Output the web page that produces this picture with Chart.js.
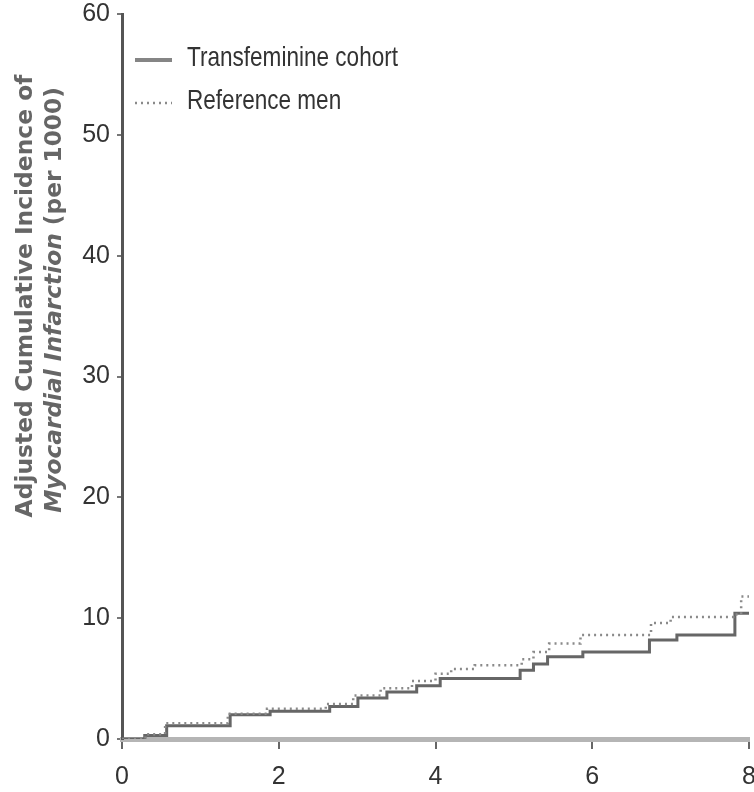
<!DOCTYPE html>
<html>
<head>
<meta charset="utf-8">
<script src="https://cdn.jsdelivr.net/npm/chart.js@4/dist/chart.umd.min.js"></script>
<style>
  html, body { margin: 0; padding: 0; background: #ffffff; }
  #wrap { width: 754px; height: 792px; position: relative; }
</style>
</head>
<body>
<div id="wrap"><canvas id="c" width="754" height="792"></canvas></div>
<script>
// ---- Data ----
const seriesNames = ["Transfeminine cohort", "Reference men"];

const transTimes  = [0, 0.29, 0.57, 1.38, 1.89, 2.65, 3.01, 3.38, 3.76, 4.06, 5.08, 5.25, 5.43, 5.88, 6.73, 7.08, 7.82, 8.0];
const transValues = [0, 0.3, 1.1, 2.0, 2.3, 2.7, 3.4, 3.9, 4.4, 5.0, 5.7, 6.2, 6.8, 7.2, 8.2, 8.6, 10.4, 10.5];

const refTimes  = [0, 0.30, 0.55, 1.35, 1.85, 2.60, 2.95, 3.30, 3.70, 4.00, 4.20, 4.50, 5.10, 5.25, 5.45, 5.85, 6.75, 7.00, 7.80, 7.90, 8.0];
const refValues = [0, 0.4, 1.3, 2.1, 2.5, 2.9, 3.6, 4.2, 4.8, 5.4, 5.8, 6.1, 6.6, 7.2, 7.9, 8.6, 9.6, 10.1, 10.3, 11.8, 11.5];

const xTicks = [0, 2, 4, 6, 8];
const yTicks = [0, 10, 20, 30, 40, 50, 60];

const yTitleLine1 = "Adjusted Cumulative Incidence of";
const yTitleLine2a = "Myocardial Infarction";
const yTitleLine2b = " (per 1000)";

// ---- helpers ----
function toPoints(xs, ys) { return xs.map((x, i) => ({ x: x, y: ys[i] })); }

const TICK_FONT = { family: "'Liberation Sans', Arial, sans-serif", size: 25 };

// custom legend + y title
const annotate = {
  id: 'annotate',
  afterDraw(chart) {
    const ctx = chart.ctx;
    // legend
    const legendRows = [
      { label: seriesNames[0], y: 58, color: '#858585', width: 4, dash: [] },
      { label: seriesNames[1], y: 101, color: '#8a8a8a', width: 2.5, dash: [2, 4] }
    ];
    ctx.save();
    ctx.font = "28px 'Liberation Sans', Arial, sans-serif";
    ctx.textBaseline = 'middle';
    const wRef = ctx.measureText(seriesNames[0]).width;
    const sx = 211 / wRef;
    legendRows.forEach(r => {
      ctx.beginPath();
      ctx.setLineDash(r.dash);
      ctx.lineWidth = r.width;
      ctx.strokeStyle = r.color;
      ctx.moveTo(135, r.y + 2);
      ctx.lineTo(172, r.y + 2);
      ctx.stroke();
      ctx.setLineDash([]);
      ctx.save();
      ctx.translate(187, r.y);
      ctx.scale(sx, 1);
      ctx.fillStyle = '#333333';
      ctx.fillText(r.label, 0, 0);
      ctx.restore();
    });
    ctx.restore();

    // y-axis title (two rotated lines)
    ctx.save();
    ctx.fillStyle = '#666666';
    ctx.textBaseline = 'middle';
    const fam = "'DejaVu Sans', Verdana, sans-serif";
    ctx.font = "bold 20px " + fam;
    let w1 = ctx.measureText(yTitleLine1).width;
    let s1 = 20 * 443 / w1;
    ctx.font = "bold " + s1.toFixed(2) + "px " + fam;
    w1 = ctx.measureText(yTitleLine1).width;
    ctx.translate(26, 296);
    ctx.rotate(-Math.PI / 2);
    ctx.fillText(yTitleLine1, -w1 / 2, 0);
    ctx.restore();

    ctx.save();
    ctx.fillStyle = '#666666';
    ctx.textBaseline = 'middle';
    ctx.font = "italic bold 20px " + fam;
    let wa = ctx.measureText(yTitleLine2a).width;
    ctx.font = "bold 20px " + fam;
    let wb = ctx.measureText(yTitleLine2b).width;
    let s2 = 20 * 426 / (wa + wb);
    ctx.font = "italic bold " + s2.toFixed(2) + "px " + fam;
    wa = ctx.measureText(yTitleLine2a).width;
    ctx.font = "bold " + s2.toFixed(2) + "px " + fam;
    wb = ctx.measureText(yTitleLine2b).width;
    ctx.translate(55, 300);
    ctx.rotate(-Math.PI / 2);
    const start = -(wa + wb) / 2;
    ctx.font = "italic bold " + s2.toFixed(2) + "px " + fam;
    ctx.fillText(yTitleLine2a, start, 0);
    ctx.font = "bold " + s2.toFixed(2) + "px " + fam;
    ctx.fillText(yTitleLine2b, start + wa, 0);
    ctx.restore();
  }
};

new Chart(document.getElementById('c'), {
  type: 'line',
  data: {
    datasets: [
      {
        label: seriesNames[1],
        data: toPoints(refTimes, refValues),
        stepped: true,
        borderColor: '#8a8a8a',
        borderWidth: 2.5,
        borderDash: [2, 4],
        pointRadius: 0,
        fill: false
      },
      {
        label: seriesNames[0],
        data: toPoints(transTimes, transValues),
        stepped: true,
        borderColor: '#666666',
        borderWidth: 3,
        pointRadius: 0,
        fill: false
      }
    ]
  },
  options: {
    responsive: false,
    animation: false,
    devicePixelRatio: 1,
    layout: { padding: { left: 0, right: 5, top: 14, bottom: 0 } },
    plugins: {
      legend: { display: false },
      tooltip: { enabled: false }
    },
    scales: {
      x: {
        type: 'linear',
        min: 0,
        max: 8,
        afterBuildTicks(scale) { scale.ticks = xTicks.map(v => ({ value: v })); },
        afterFit(scale) {
          scale.height = 53;
          scale.paddingLeft = 0; scale.paddingRight = 0;
        },
        border: { display: true, color: '#b5b5b5', width: 5 },
        grid: { drawOnChartArea: false, drawTicks: true, tickLength: 10, color: '#666666', lineWidth: 2 },
        ticks: { font: TICK_FONT, color: '#333333', padding: 13, maxRotation: 0 }
      },
      y: {
        type: 'linear',
        min: 0,
        max: 60,
        afterBuildTicks(scale) { scale.ticks = yTicks.map(v => ({ value: v })); },
        afterFit(scale) {
          scale.width = 122;
          scale.paddingTop = 0; scale.paddingBottom = 0;
        },
        border: { display: true, color: '#555555', width: 3 },
        grid: { drawOnChartArea: false, drawTicks: true, tickLength: 5, color: '#777777', lineWidth: 2 },
        ticks: { font: TICK_FONT, color: '#333333', padding: 7 }
      }
    }
  },
  plugins: [annotate]
});
</script>
</body>
</html>
